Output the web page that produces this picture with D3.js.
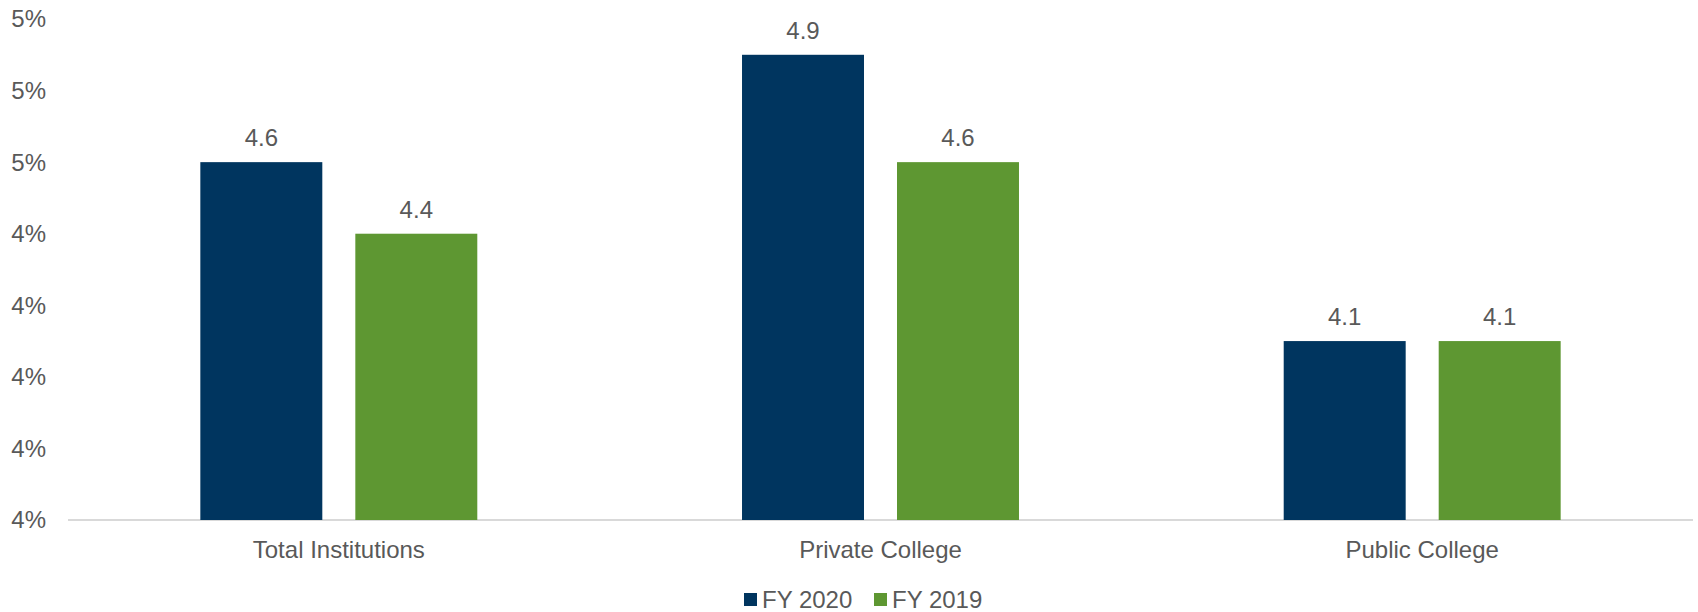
<!DOCTYPE html>
<html>
<head>
<meta charset="utf-8">
<script src="https://cdn.jsdelivr.net/npm/d3@7"></script>
<style>
  body { margin: 0; background: #fff; }
  text { font-family: "Liberation Sans", Arial, sans-serif; fill: #595959; }
</style>
</head>
<body>
<div id="chart"></div>
<script>
const width = 1698;
const height = 612;

// data
const categories = ["Total Institutions", "Private College", "Public College"];
const seriesNames = ["FY 2020", "FY 2019"];
const fy2020 = [4.6, 4.9, 4.1];
const fy2019 = [4.4, 4.6, 4.1];
const yTicks = [3.6, 3.8, 4.0, 4.2, 4.4, 4.6, 4.8, 5.0];
const colors = ["#00355f", "#5e9732"];

const rows = categories.map((c, i) => ({ cat: c, values: [fy2020[i], fy2019[i]] }));

const plotLeft = 68, plotRight = 1693, baseY = 520, topY = 19;

// scales
const xScale = d3.scaleBand()
  .domain(categories)
  .range([plotLeft, plotRight])
  .paddingInner(0.4887)
  .paddingOuter(0.2443);

const xSub = d3.scaleBand()
  .domain(seriesNames)
  .range([0, xScale.bandwidth()])
  .paddingInner(0.213);

const yScale = d3.scaleLinear()
  .domain([3.6, 5.0])
  .range([baseY, topY]);

const colorScale = d3.scaleOrdinal().domain(seriesNames).range(colors);

const svg = d3.select("#chart")
  .append("svg")
  .attr("width", width)
  .attr("height", height);

// y tick labels
svg.append("g")
  .selectAll("text")
  .data(yTicks)
  .join("text")
  .attr("x", 46)
  .attr("y", d => yScale(d))
  .attr("dy", "0.35em")
  .attr("text-anchor", "end")
  .style("font-size", "24px")
  .text(d => d3.format(".0%")(d / 100));

// baseline
svg.append("line")
  .attr("x1", plotLeft).attr("x2", plotRight)
  .attr("y1", baseY).attr("y2", baseY)
  .attr("stroke", "#d9d9d9")
  .attr("stroke-width", 2);

// bars
const groups = svg.selectAll("g.cat")
  .data(rows)
  .join("g")
  .attr("class", "cat")
  .attr("transform", d => `translate(${xScale(d.cat)},0)`);

const items = d => d.values.map((v, i) => ({ name: seriesNames[i], value: v }));

groups.selectAll("rect")
  .data(items)
  .join("rect")
  .attr("x", d => xSub(d.name))
  .attr("width", xSub.bandwidth())
  .attr("y", d => yScale(d.value))
  .attr("height", d => baseY - yScale(d.value))
  .attr("fill", d => colorScale(d.name));

groups.selectAll("text.lbl")
  .data(items)
  .join("text")
  .attr("class", "lbl")
  .attr("x", d => xSub(d.name) + xSub.bandwidth() / 2)
  .attr("y", d => yScale(d.value) - 16)
  .attr("text-anchor", "middle")
  .style("font-size", "24px")
  .text(d => d3.format(".1f")(d.value));

// category labels
svg.append("g")
  .selectAll("text")
  .data(categories)
  .join("text")
  .attr("x", d => xScale(d) + xScale.bandwidth() / 2)
  .attr("y", 550)
  .attr("dy", "0.35em")
  .attr("text-anchor", "middle")
  .style("font-size", "24px")
  .text(d => d);

// legend
const legendX = [744, 874];
const legend = svg.append("g")
  .selectAll("g")
  .data(seriesNames)
  .join("g")
  .attr("transform", (d, i) => `translate(${legendX[i]},600)`);

legend.append("rect")
  .attr("x", 0).attr("y", -7)
  .attr("width", 13).attr("height", 13)
  .attr("fill", d => colorScale(d));

legend.append("text")
  .attr("x", 18)
  .attr("y", 0)
  .attr("dy", "0.35em")
  .style("font-size", "24px")
  .text(d => d);
</script>
</body>
</html>
